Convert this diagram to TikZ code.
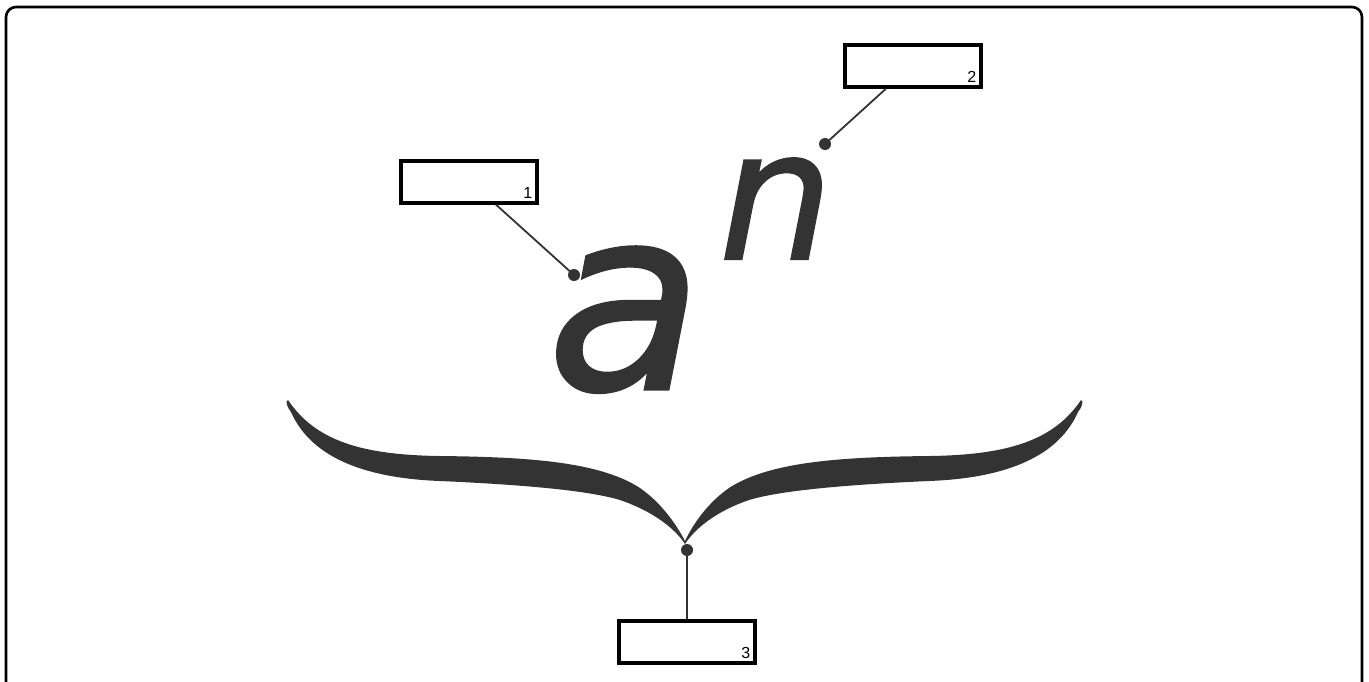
\documentclass[tikz,border=0pt]{standalone}
\usepackage{fontspec}
\setmainfont{Liberation Sans}
\newfontfamily\glyphfont{DejaVu Sans}[FakeBold=1.2]
\usepackage{tikz}
\usetikzlibrary{positioning, calc}
\definecolor{cInk}{HTML}{333333}
\tikzset{
  frame/.style={draw=black, line width=1.3pt, rounded corners=5},
  callout/.style={
    rectangle, draw=black, line width=1.7pt, fill=white,
    minimum width=68pt, minimum height=21pt, inner sep=0pt
  },
  num/.style={font=\fontsize{8}{9}\selectfont, inner sep=3pt, text=black},
  glyph/.style={text=cInk, inner sep=0pt, anchor=base},
  lead/.style={draw=cInk, line width=0.9pt},
  dot/.style={fill=cInk},
}

\begin{document}
\begin{tikzpicture}[x=0.5pt, y=-0.5pt]

  \clip (0,0) rectangle (1369,681);
  \draw[frame] (6,7) rectangle (1362,720);

  % the power
  \node[glyph, font=\glyphfont\itshape\fontsize{127}{127}\selectfont] (base) at (625,389) {a};
  \node[glyph, font=\glyphfont\itshape\fontsize{90}{90}\selectfont] (expo) at (776,259) {n};

  % brace under it
  \fill[cInk] (288,400) .. controls (315,440) and (360,455) .. (440,456)
    .. controls (530,457) and (600,462) .. (640,488)
    .. controls (660,502) and (675,522) .. (685,541)
    .. controls (694,522) and (709,502) .. (729,488)
    .. controls (769,462) and (839,457) .. (929,456)
    .. controls (1009,455) and (1054,440) .. (1081,400)
    .. controls (1084,401) and (1082,407) .. (1078,412)
    .. controls (1059,455) and (1009,478) .. (929,481)
    .. controls (839,485) and (779,491) .. (749,500)
    .. controls (714,512) and (694,530) .. (685,544)
    .. controls (676,530) and (655,512) .. (620,500)
    .. controls (590,491) and (530,485) .. (440,481)
    .. controls (360,478) and (310,455) .. (291,412)
    .. controls (287,407) and (285,401) .. cycle;

  % callout boxes
  \node[callout] (b1) at (469,182) {};
  \node[callout] (b2) at (913,66) {};
  \node[callout] (b3) at (687,642) {};
  \node[num, anchor=south east] (l1) at (b1.south east) {1};
  \node[num, anchor=south east] (l2) at (b2.south east) {2};
  \node[num, anchor=south east] (l3) at (b3.south east) {3};

  % pointers
  \coordinate (d1) at (574,275);
  \coordinate (d2) at (825,144);
  \coordinate (d3) at (687,550);
  \draw[lead] (b1.-40) -- (d1);
  \draw[lead] (b2.-140) -- (d2);
  \draw[lead] (b3.north) -- (d3);
  \foreach \d in {d1,d2,d3}
    \fill[dot] (\d) circle (6);

\end{tikzpicture}
\end{document}
